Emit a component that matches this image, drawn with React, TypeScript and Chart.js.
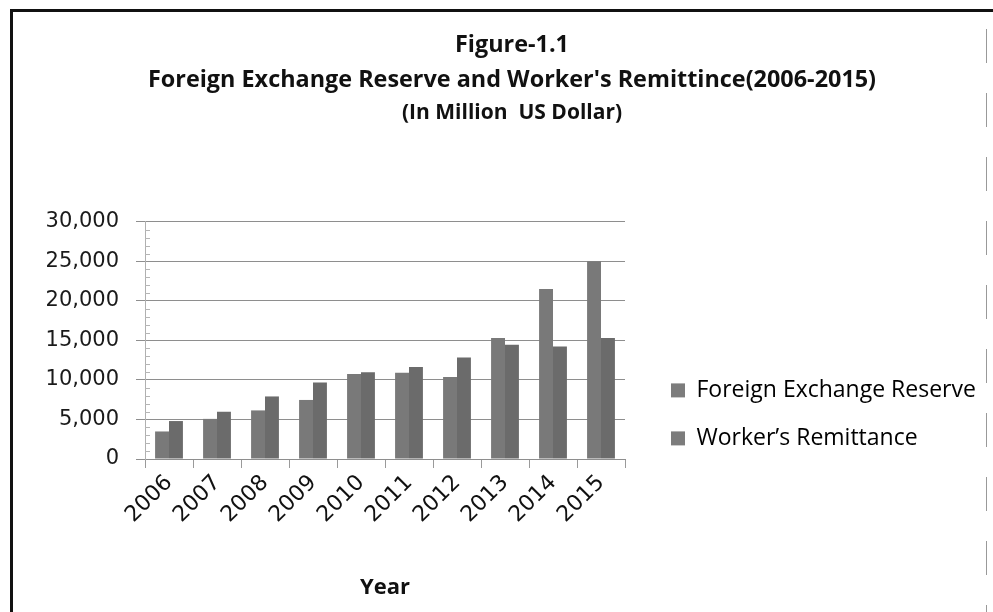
import { useEffect, useRef } from 'react';
import { Chart, registerables } from 'chart.js';

Chart.register(...registerables);

const years = ['2006', '2007', '2008', '2009', '2010', '2011', '2012', '2013', '2014', '2015'];
const reserve = [3484, 5077, 6149, 7471, 10750, 10912, 10364, 15315, 21508, 25025];
const remittance = [4802, 5979, 7915, 9689, 10987, 11650, 12843, 14461, 14228, 15316];
const seriesNames = ['Foreign Exchange Reserve', 'Worker\u2019s Remittance'];
const titleLines = ['Figure-1.1', "Foreign Exchange Reserve and Worker's Remittince(2006-2015)"];
const subtitleText = '(In Million  US Dollar)';
const xTitle = 'Year';
const yMin = 0;
const yMax = 30000;
const yStep = 5000;
const yMinorStep = 1000;

// Re-place the legend and the title blocks once the layout is known.
const placeBoxes = {
  id: 'placeBoxes',
  afterLayout(chart: any) {
    const area = chart.chartArea;
    const l = chart.legend;
    if (l) {
      l.left = area.right + 21;
      l.right = chart.width;
      l.top = area.top + 132;
      l.bottom = chart.height;
      l.width = l.right - l.left;
      l.height = l.bottom - l.top;
    }
    chart.boxes.forEach((b: any) => {
      if (!b.axis && b.options && b.options.position === 'top') {
        b.left = 31;
        b.right = chart.width;
        b.width = b.right - b.left;
      }
    });
  },
};

const minorTicks = {
  id: 'minorTicks',
  afterDatasetsDraw(chart: any) {
    const y = chart.scales.y;
    const ctx = chart.ctx;
    const x0 = chart.chartArea.left;
    ctx.save();
    ctx.strokeStyle = '#b5b5b5';
    ctx.lineWidth = 1;
    for (let v = yMin; v <= yMax; v += yMinorStep) {
      if (v % yStep === 0) continue;
      const py = Math.round(y.getPixelForValue(v)) + 0.5;
      ctx.beginPath();
      ctx.moveTo(x0, py);
      ctx.lineTo(x0 + 5, py);
      ctx.stroke();
    }
    ctx.restore();
  },
};

export default function App() {
  const ref = useRef<HTMLCanvasElement | null>(null);

  useEffect(() => {
    if (!ref.current) return;
    const chart = new Chart(ref.current, {
      type: 'bar',
      data: {
        labels: years,
        datasets: [
          {
            label: seriesNames[0],
            data: reserve,
            backgroundColor: '#797979',
            borderWidth: 0,
            categoryPercentage: 0.58,
            barPercentage: 1.0,
          },
          {
            label: seriesNames[1],
            data: remittance,
            backgroundColor: '#6b6b6b',
            borderWidth: 0,
            categoryPercentage: 0.58,
            barPercentage: 1.0,
          },
        ],
      },
      options: {
        responsive: false,
        animation: false,
        layout: { padding: { left: 10, right: 368, top: 0, bottom: 0 } },
        plugins: {
          title: {
            display: true,
            text: titleLines,
            color: '#111',
            font: { family: 'Open Sans', size: 23.4, weight: 'bold', lineHeight: 1.5 },
            padding: { top: 27.5, bottom: 0 },
          },
          subtitle: {
            display: true,
            text: subtitleText,
            color: '#111',
            font: { family: 'Open Sans', size: 21, weight: 'bold', lineHeight: 1.2 },
            padding: { top: 3, bottom: 96 },
          },
          legend: {
            position: 'chartArea',
            align: 'start',
            labels: {
              color: '#1a1a1a',
              font: { family: 'Open Sans', size: 23 },
              boxWidth: 14,
              boxHeight: 14,
              padding: 25,
              generateLabels: (c: any) =>
                c.data.datasets.map((d: any, i: number) => ({
                  text: d.label,
                  fillStyle: '#7c7c7c',
                  strokeStyle: '#7c7c7c',
                  lineWidth: 0,
                  hidden: false,
                  datasetIndex: i,
                })),
            },
          },
          tooltip: { enabled: false },
        },
        scales: {
          x: {
            offset: true,
            grid: {
              offset: true,
              drawOnChartArea: false,
              drawTicks: true,
              tickLength: 9,
              color: '#9a9a9a',
            },
            border: { color: '#8e8e8e' },
            ticks: {
              minRotation: 45,
              maxRotation: 45,
              padding: 2,
              color: '#111',
              font: { family: 'DejaVu Sans', size: 22 },
            },
            title: {
              display: true,
              text: xTitle,
              color: '#111',
              font: { family: 'Open Sans', size: 22, weight: 'bold', lineHeight: 1.2 },
              padding: { top: 0, bottom: 11 },
            },
            afterFit: (s: any) => {
              s.height = 153;
            },
          },
          y: {
            min: yMin,
            max: yMax,
            ticks: {
              stepSize: yStep,
              padding: 17,
              color: '#1a1a1a',
              font: { family: 'DejaVu Sans', size: 21 },
              callback: (v: any) => Number(v).toLocaleString('en-US'),
            },
            grid: { color: '#8e8e8e', tickLength: 9 },
            border: { color: '#b0b0b0' },
            afterFit: (s: any) => {
              s.width = 135;
            },
          },
        },
      },
      plugins: [placeBoxes, minorTicks],
    });
    return () => chart.destroy();
  }, []);

  return (
    <div
      style={{
        position: 'fixed',
        left: 0,
        top: 0,
        width: 993,
        height: 612,
        background: '#fff',
        overflow: 'hidden',
      }}
    >
      <canvas ref={ref} width={993} height={612} style={{ display: 'block' }} />
      <div style={{ position: 'absolute', left: 10, top: 9, width: 983, height: 3, background: '#111' }} />
      <div style={{ position: 'absolute', left: 10, top: 9, width: 3, height: 603, background: '#111' }} />
      <div
        style={{
          position: 'absolute',
          left: 986,
          top: 29,
          width: 1,
          height: 583,
          background: 'repeating-linear-gradient(to bottom, #999 0px, #999 34px, transparent 34px, transparent 64px)',
        }}
      />
    </div>
  );
}
